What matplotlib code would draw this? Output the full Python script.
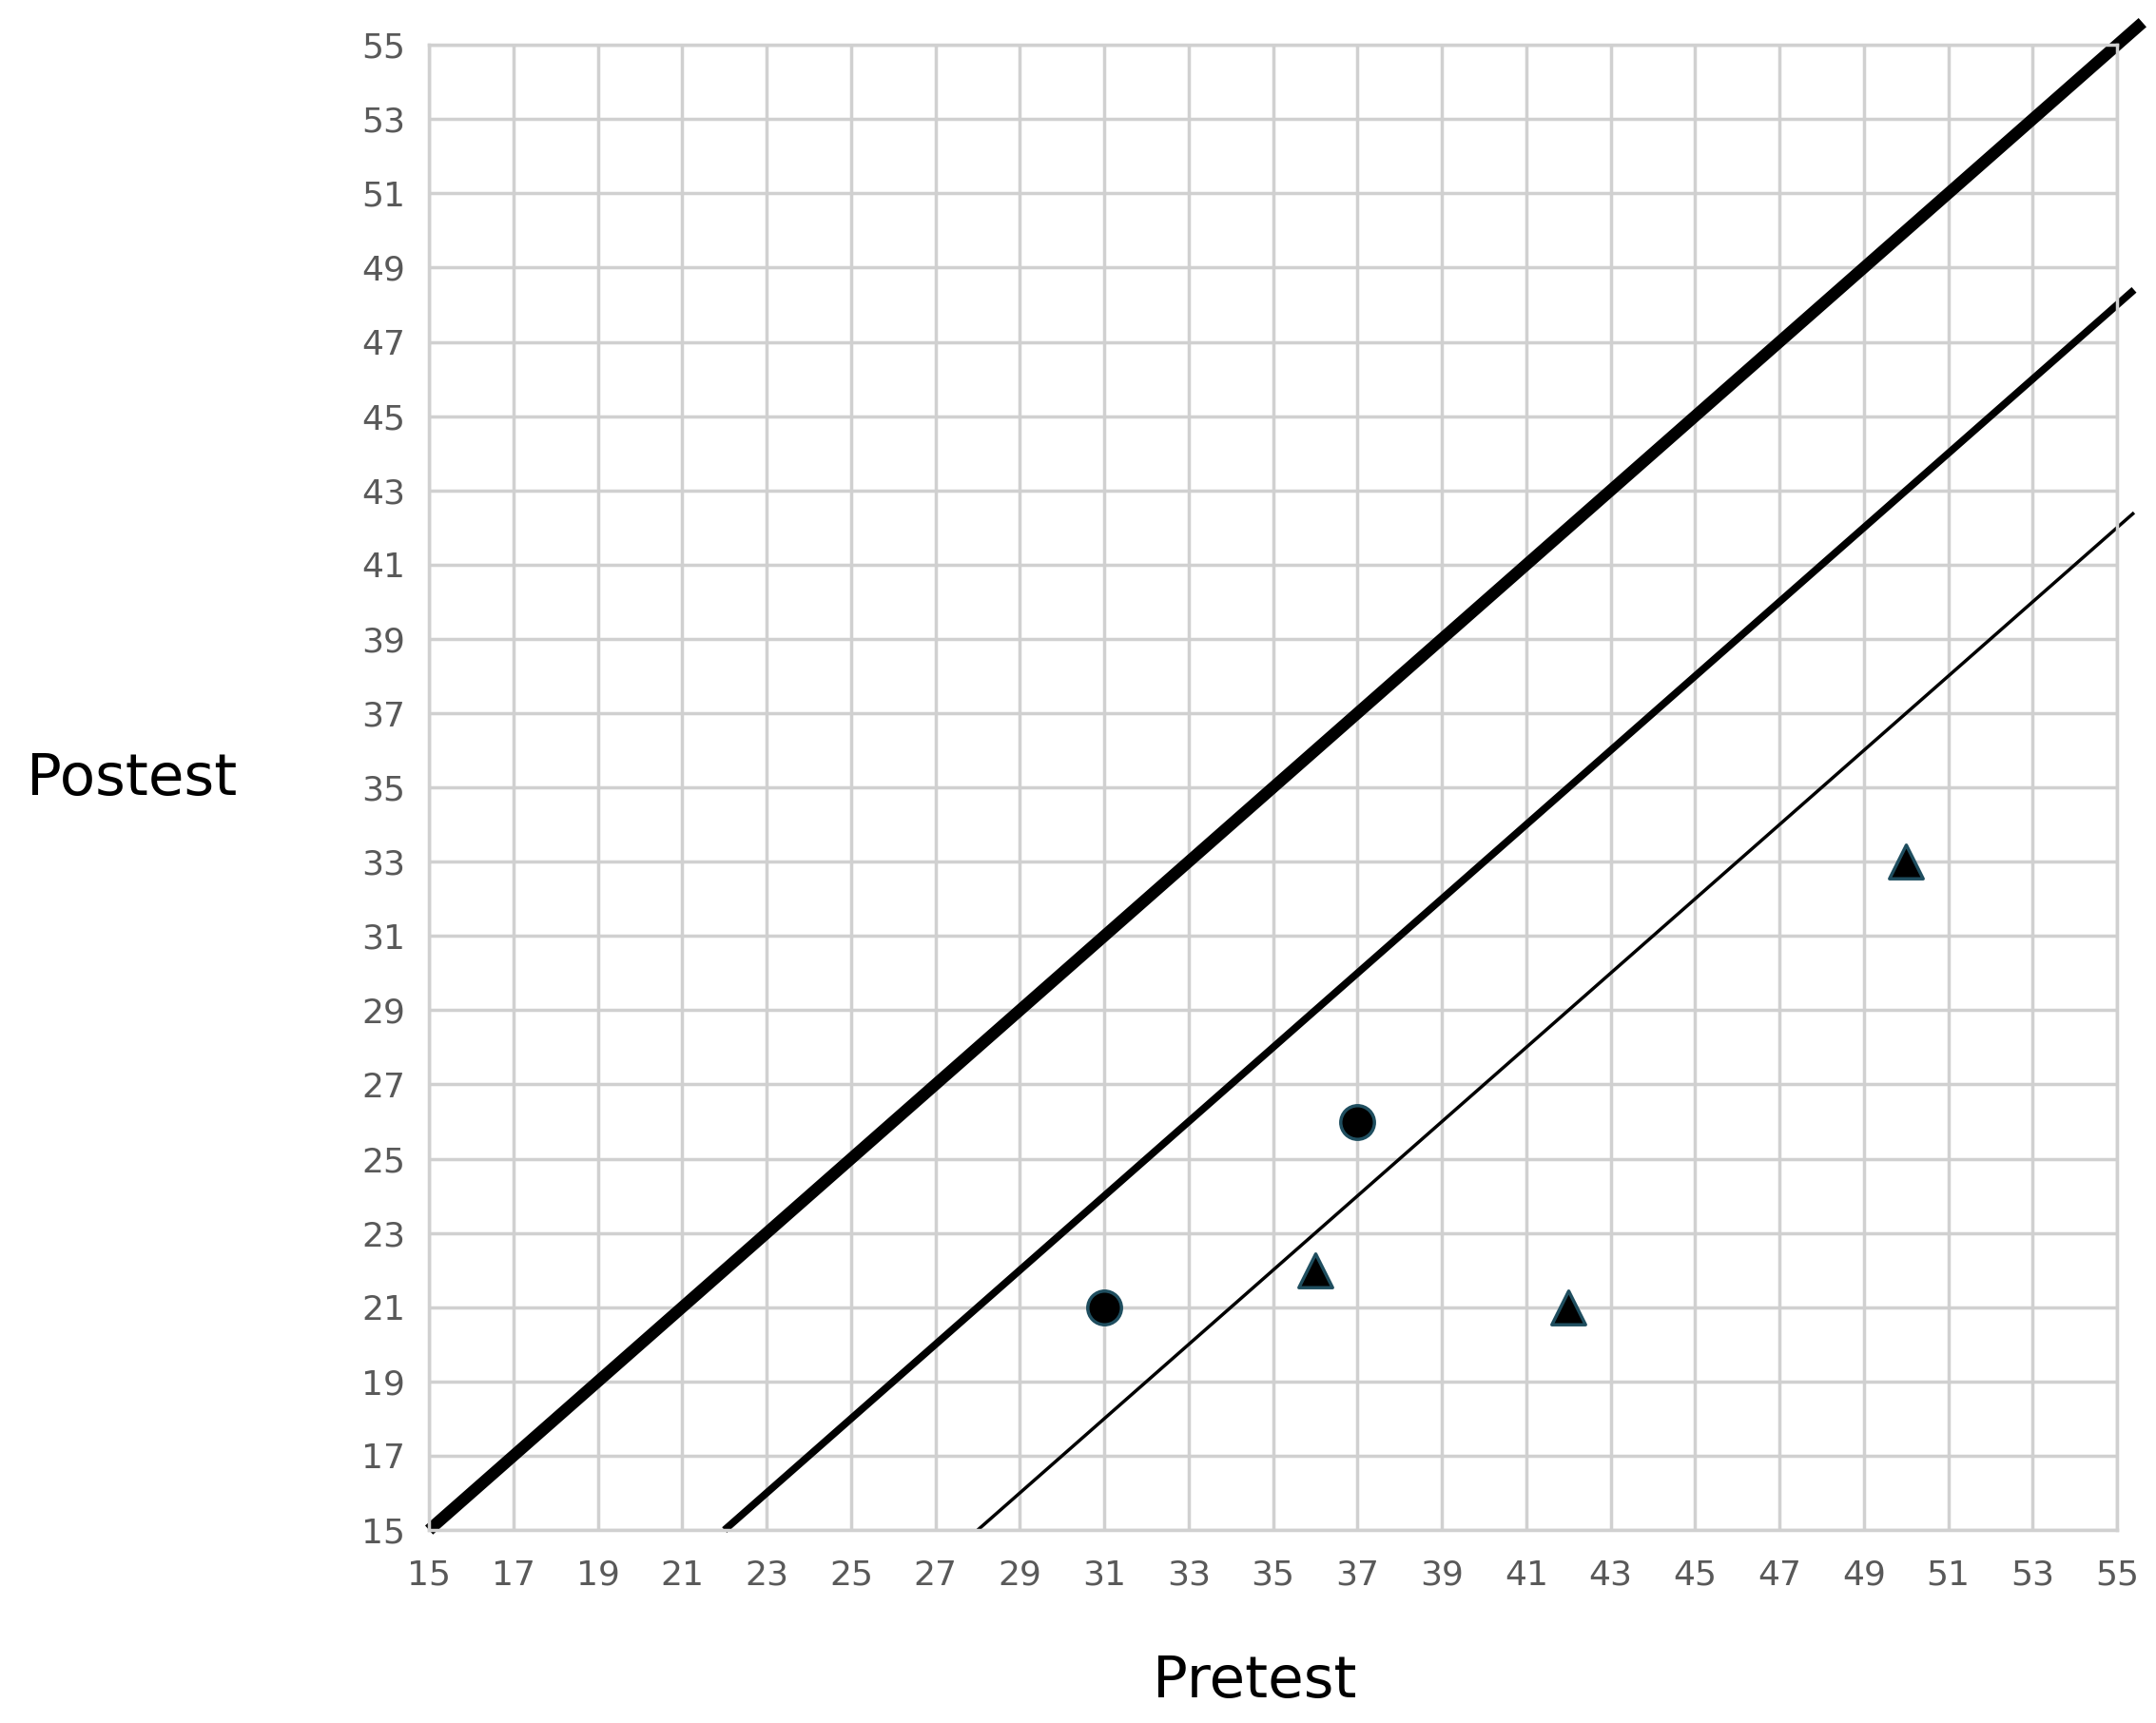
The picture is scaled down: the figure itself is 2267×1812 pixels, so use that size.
import matplotlib
matplotlib.use("Agg")
import matplotlib.pyplot as plt
import numpy as np

circle_x = [31, 37]
circle_y = [21, 26]
tri_x = [36, 42, 50]
tri_y = [22, 21, 33]
# reference lines: (x_start, x_end, offset, width)
line_starts = [15, 22, 28]
line_ends = [55.6, 55.4, 55.4]
line_offsets = [0, -7, -13]
line_widths = [9, 5.5, 2.5]
ticks = list(range(15, 56, 2))

fig = plt.figure(figsize=(22.67, 18.12), dpi=100)
ax = fig.add_axes([0.199, 0.112, 0.783, 0.862])
ax.set_xlim(15, 55)
ax.set_ylim(15, 55)
ax.set_xticks(ticks)
ax.set_yticks(ticks)
ax.grid(True, color="#d0d0d0", lw=2.5)
ax.set_axisbelow(True)
for s in ax.spines.values():
    s.set_color("#d0d0d0"); s.set_linewidth(2.5)
ax.tick_params(length=0, labelsize=26, labelcolor="#595959")
ax.tick_params(axis="x", pad=22)
ax.tick_params(axis="y", pad=18)

for xs, xe, off, w in zip(line_starts, line_ends, line_offsets, line_widths):
    xx = np.array([xs, xe])
    ax.plot(xx, xx + off, color="black", lw=w, clip_on=False, solid_capstyle="butt")

ax.scatter(circle_x, circle_y, marker="o", s=650, color="black", edgecolors="#1f4e5f", linewidths=2.5, zorder=5)
ax.scatter(tri_x, tri_y, marker="^", s=650, color="black", edgecolors="#1f4e5f", linewidths=2.5, zorder=5)

fig.text(0.061, 0.548, "Postest", fontsize=44, ha="center", va="center")
fig.text(0.582, 0.024, "Pretest", fontsize=44, ha="center", va="center")
fig.savefig("out.png", dpi=100)
